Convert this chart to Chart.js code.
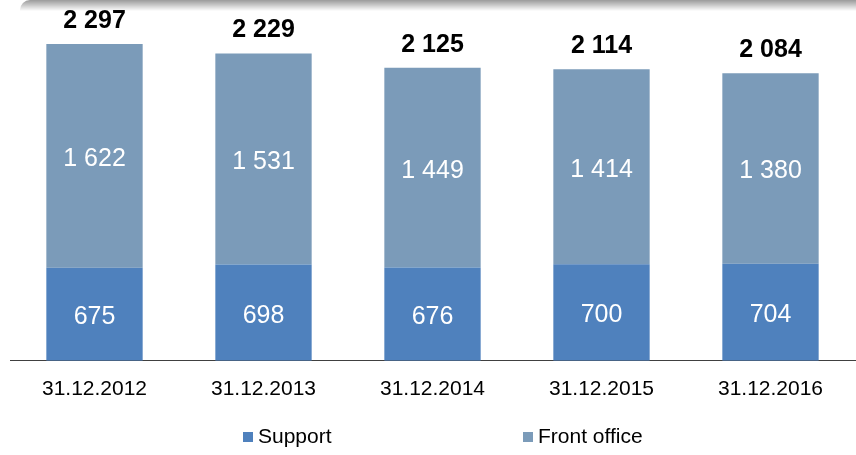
<!DOCTYPE html>
<html>
<head>
<meta charset="utf-8">
<script src="https://cdn.jsdelivr.net/npm/chart.js@4.4.1/dist/chart.umd.min.js"></script>
<style>
  html, body { margin: 0; padding: 0; background: #fff; }
  #wrap { position: relative; width: 856px; height: 455px; overflow: hidden; }
  #shade {
    position: absolute; left: 20px; right: -20px; top: 0; height: 11px;
    background: linear-gradient(to bottom, #9a9a9a, rgba(255,255,255,0));
    border-top-left-radius: 10px;
  }
</style>
</head>
<body>
<div id="wrap">
  <canvas id="chart" width="856" height="455"></canvas>
  <div id="shade"></div>
</div>
<script>
const categories = ['31.12.2012', '31.12.2013', '31.12.2014', '31.12.2015', '31.12.2016']
const support = [675, 698, 676, 700, 704]
const front_office = [1622, 1531, 1449, 1414, 1380]
const totals = [2297, 2229, 2125, 2114, 2084]

const font_family = '"Liberation Sans", Arial, sans-serif'

function fmt(v){
  return String(v).replace(/\B(?=(\d{3})+(?!\d))/g, ' ')
}

// values inside the bars and totals over them
const barLabels = {
  id: 'barLabels',
  afterDatasetsDraw(chart){
    const ctx = chart.ctx
    ctx.save()
    ctx.textAlign = 'center'
    ctx.textBaseline = 'middle'
    chart.data.datasets.forEach((ds, di) => {
      const meta = chart.getDatasetMeta(di)
      meta.data.forEach((bar, i) => {
        ctx.fillStyle = '#fff'
        ctx.font = '25px ' + font_family
        ctx.fillText(fmt(ds.data[i]), bar.x, (bar.y + bar.base) / 2 + 3)
      })
    })
    const top = chart.getDatasetMeta(1)
    ctx.fillStyle = '#000'
    ctx.font = 'bold 25px ' + font_family
    ctx.textBaseline = 'alphabetic'
    top.data.forEach((bar, i) => {
      ctx.fillText(fmt(totals[i]), bar.x, bar.y - 16)
    })
    ctx.restore()
  }
}

// legend drawn by hand, the two entries sit far apart
const wideLegend = {
  id: 'wideLegend',
  afterDraw(chart){
    const ctx = chart.ctx
    const xs = [243, 523]
    const y = 437
    ctx.save()
    ctx.font = '21px ' + font_family
    ctx.textBaseline = 'middle'
    ctx.textAlign = 'left'
    chart.data.datasets.forEach((ds, i) => {
      ctx.fillStyle = ds.backgroundColor
      ctx.fillRect(xs[i], y - 5, 10, 10)
      ctx.fillStyle = '#000'
      ctx.fillText(ds.label, xs[i] + 15, y)
    })
    ctx.restore()
  }
}

new Chart(document.getElementById('chart'), {
  type: 'bar',
  data: {
    labels: categories,
    datasets: [
      {
        label: 'Support',
        data: support,
        backgroundColor: '#4f81bd',
        categoryPercentage: 1,
        barPercentage: 0.57,
      },
      {
        label: 'Front office',
        data: front_office,
        backgroundColor: '#7b9bb9',
        categoryPercentage: 1,
        barPercentage: 0.57,
      },
    ]
  },
  options: {
    responsive: false,
    animation: false,
    layout: {
      padding: { left: 10, right: 1, top: 0, bottom: 45 }
    },
    plugins: {
      legend: { display: false },
      tooltip: { enabled: false },
    },
    scales: {
      x: {
        stacked: true,
        grid: { display: false },
        border: { display: true, color: '#404040', width: 1 },
        ticks: {
          color: '#000',
          padding: 8,
          font: { family: font_family, size: 21 },
        }
      },
      y: {
        stacked: true,
        display: false,
        min: 0,
        max: 2616,
      }
    }
  },
  plugins: [barLabels, wideLegend]
})
</script>
</body>
</html>
